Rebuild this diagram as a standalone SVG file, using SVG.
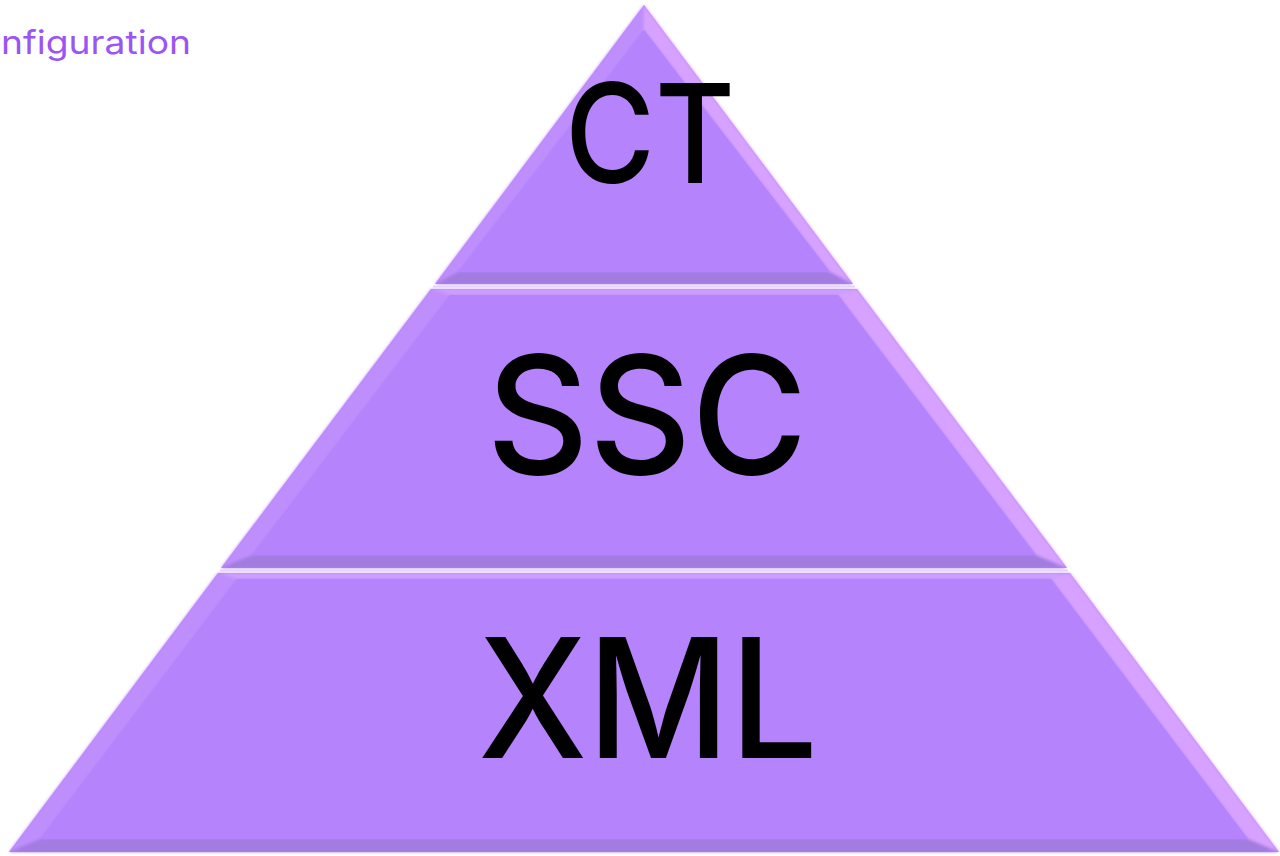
<svg xmlns="http://www.w3.org/2000/svg" width="1280" height="856" viewBox="0 0 1280 856">
  <style>
    .base { fill: #b583fb; }
    .left { fill: #bf8efd; }
    .right { fill: #d7a2ff; }
    .top { fill: #cda0ff; }
    .bottom { fill: #a37ce0; }
    .facets { filter: url(#soft); }
    .label { font-family: Inter, "Noto Sans", sans-serif; font-weight: 500; fill: #000; text-anchor: middle; }
    .title { font-family: Inter, "Noto Sans", sans-serif; font-size: 33px; fill: #9b55f5; }
  </style>
  <defs>
    <filter id="soft" x="-5%" y="-5%" width="110%" height="110%">
      <feGaussianBlur stdDeviation="1.6"/>
    </filter>
  </defs>

  <text class="title" x="1" y="54" textLength="190" lengthAdjust="spacingAndGlyphs">nfiguration</text>

  <!-- top tier -->
  <g id="tier-ct">
    <polygon class="base" points="644,5 853,284 435,284"/>
    <g class="facets">
      <polygon class="left" points="644,5 435,284 458,272 644,30"/>
      <polygon class="right" points="644,5 853,284 830,272 644,30"/>
      <polygon class="bottom" points="435,284 853,284 830,272 458,272"/>
    </g>
    <polygon class="base" points="644,30 830,272 458,272"/>
    <text class="label" x="650" y="183" font-size="138" textLength="170" lengthAdjust="spacingAndGlyphs">CT</text>
  </g>

  <!-- middle tier -->
  <g id="tier-ssc">
    <polygon class="base" points="431,289 857,289 1067,568 221,568"/>
    <g class="facets">
      <polygon class="top" points="431,289 857,289 838,295 450,295"/>
      <polygon class="left" points="431,289 450,295 252,555 221,568"/>
      <polygon class="right" points="857,289 838,295 1036,555 1067,568"/>
      <polygon class="bottom" points="221,568 1067,568 1036,555 252,555"/>
    </g>
    <polygon class="base" points="450,295 838,295 1036,555 252,555"/>
    <text class="label" x="647" y="474" font-size="164" textLength="321" lengthAdjust="spacingAndGlyphs">SSC</text>
  </g>

  <!-- bottom tier -->
  <g id="tier-xml">
    <polygon class="base" points="218,573 1070,573 1279,852 9,852"/>
    <g class="facets">
      <polygon class="top" points="218,573 1070,573 1051,579 237,579"/>
      <polygon class="left" points="218,573 237,579 40,839 9,852"/>
      <polygon class="right" points="1070,573 1051,579 1248,839 1279,852"/>
      <polygon class="bottom" points="9,852 1279,852 1248,839 40,839"/>
    </g>
    <polygon class="base" points="237,579 1051,579 1248,839 40,839"/>
    <text class="label" x="648" y="758" font-size="166" textLength="340" lengthAdjust="spacingAndGlyphs">XML</text>
  </g>

  <!-- separators between tiers -->
  <g id="connectors">
    <line x1="433" y1="286.5" x2="855" y2="286.5" stroke="#e6d2ff" stroke-width="2"/>
    <line x1="220" y1="570.5" x2="1068" y2="570.5" stroke="#e6d2ff" stroke-width="2"/>
  </g>
</svg>
